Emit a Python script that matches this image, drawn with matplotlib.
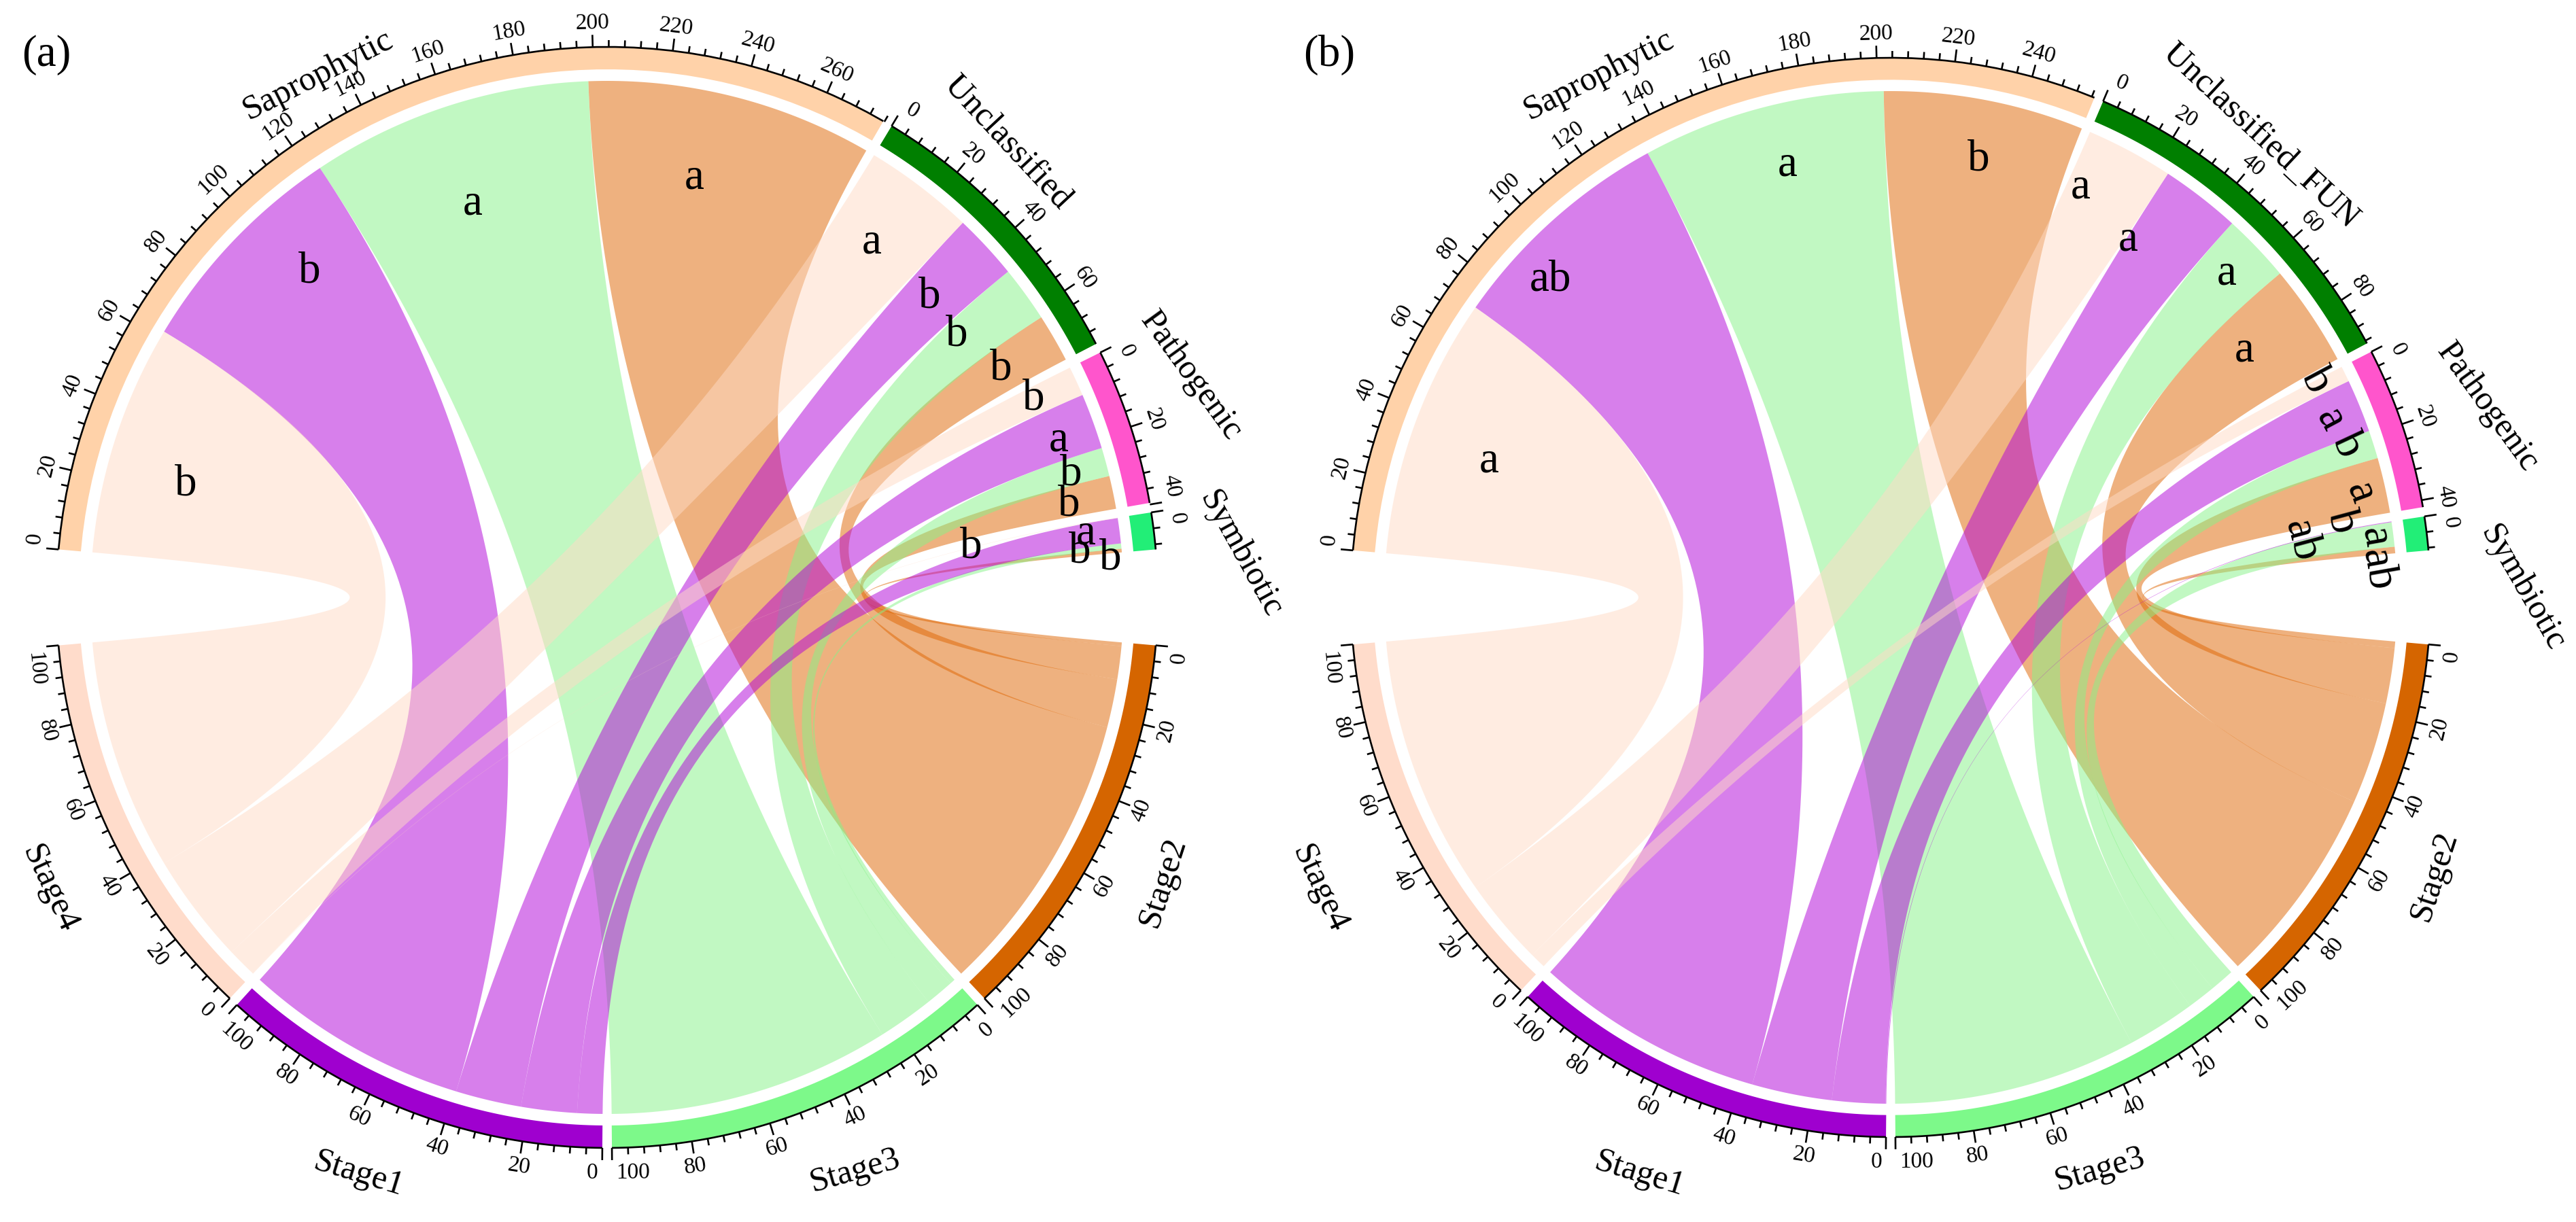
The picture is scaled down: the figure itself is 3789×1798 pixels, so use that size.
import numpy as np
import matplotlib
matplotlib.use("Agg")
import matplotlib.pyplot as plt
from matplotlib.patches import Polygon

plt.rcParams['font.family'] = ['Liberation Serif', 'DejaVu Serif']

# order on the circle, clockwise, starting next to the left gap
groups_a = ["Saprophytic", "Unclassified", "Pathogenic", "Symbiotic"]
groups_b = ["Saprophytic", "Unclassified_FUN", "Pathogenic", "Symbiotic"]
stages = ["Stage2", "Stage3", "Stage1", "Stage4"]

# rows = groups, columns follow stages
flows_a = [[77.1, 75.9, 60.5, 62.2],
           [13.0, 15.0, 17.7, 29.7],
           [8.9, 7.7, 15.0, 8.0],
           [1.0, 1.4, 6.8, 0.1]]
flows_b = [[55.0, 66.8, 63.2, 71.7],
           [28.0, 18.8, 22.0, 24.0],
           [15.2, 7.7, 14.6, 4.3],
           [1.8, 6.7, 0.2, 0.0]]

group_colors = ["#FFD2A9", "#007F00", "#FF55CC", "#22EE77"]
stage_colors = ["#D56500", "#7DF98A", "#9F00CF", "#FFDCCB"]
link_colors = ["#DF6500", "#85F387", "#B101D9", "#FFDBC5"]

# significance letters: (text, x, y, rotation)
letters_a = [("b", 273, 713, 0), ("b", 455, 400, 0), ("a", 695, 300, 0), ("a", 1021, 262, 0),
             ("a", 1282, 357, 0), ("b", 1367, 437, 0), ("b", 1407, 493, 0), ("b", 1472, 543, 0),
             ("b", 1520, 587, 0), ("a", 1557, 648, 0), ("b", 1575, 698, 0), ("b", 1572, 743, 0),
             ("a", 1597, 785, 0), ("b", 1588, 812, 0), ("b", 1633, 822, 0), ("b", 1428, 805, 0)]
letters_b = [("a", 2190, 679, 0), ("ab", 2280, 412, 0), ("a", 2629, 243, 0), ("b", 2910, 235, 0),
             ("a", 3060, 276, 0), ("a", 3130, 353, 0), ("a", 3275, 403, 0), ("a", 3301, 516, 0),
             ("b", 3407, 560, -62), ("a", 3428, 617, -62), ("b", 3453, 655, -65), ("a", 3472, 725, -70),
             ("b", 3445, 768, -75), ("ab", 3385, 795, -75), ("a", 3493, 790, -80), ("ab", 3497, 838, -80)]

# sector titles sit where the original author dragged them: (x, y, rotation), same order as the sectors
titles_a = [(468, 110, 27), (1481, 211, -47), (1752, 553, -54), (1825, 815, -61),
            (1711, 1298, 72), (1258, 1723, 16), (528, 1728, -17), (72, 1308, -65)]
titles_b = [(2352, 110, 27), (3325, 201, -43), (3659, 599, -54), (3710, 865, -60),
            (3581, 1289, 72), (3089, 1721, 16), (2412, 1728, -17), (1940, 1308, -65)]

GAP_BIG = 10
GAP_SMALL = 1


def pol(cx, cy, r, theta):
    # theta in degrees, clockwise from north; y axis points down
    t = np.deg2rad(theta)
    return cx + r * np.sin(t), cy - r * np.cos(t)


def arc(cx, cy, r, t0, t1, n=60):
    x, y = pol(cx, cy, r, np.linspace(t0, t1, n))
    return np.column_stack([x, y])


def bezier(p0, ctrl, p2, n=80):
    t = np.linspace(0, 1, n)[:, None]
    return (1 - t)**2 * p0 + 2 * (1 - t) * t * ctrl + t**2 * p2


def is_lower(theta):
    return 90 < theta % 360 < 270


def upright(theta):
    th = theta % 360
    return 180 - th if is_lower(th) else -th


def draw_link(ax, cx, cy, r, a0, a1, b0, b1, color):
    ctr = np.array([cx, cy])
    s = arc(cx, cy, r, a0, a1)
    t = arc(cx, cy, r, b0, b1)
    pts = np.vstack([s, bezier(s[-1], ctr, t[0]), t, bezier(t[-1], ctr, s[0])])
    ax.add_patch(Polygon(pts, closed=True, fc=color, ec='none', alpha=0.5, lw=0))


def draw_sector(ax, cx, cy, r_out, r_band, t0, total, scale, color):
    t1 = t0 + total * scale
    ring = np.vstack([arc(cx, cy, r_out, t0, t1), arc(cx, cy, r_band, t1, t0)])
    ax.add_patch(Polygon(ring, closed=True, fc=color, ec='none'))
    ax.plot(*arc(cx, cy, r_out, t0, t1).T, color='k', lw=1.9, solid_capstyle='butt')
    for v in np.arange(0, total + 0.5, 4):
        th = t0 + v * scale
        major = v % 20 == 0
        x0, y0 = pol(cx, cy, r_out, th)
        x1, y1 = pol(cx, cy, r_out + (18 if major else 10), th)
        ax.plot([x0, x1], [y0, y1], color='k', lw=1.9, solid_capstyle='butt')
        if major:
            # labels on the sector ends are pushed into the sector
            ha = 'center'
            th_lab = th
            if v == 0:
                ha = 'right' if is_lower(th) else 'left'
                th_lab = th + 0.4
            elif abs(v - total) < 0.5:
                ha = 'left' if is_lower(th) else 'right'
                th_lab = th - 0.4
            xt, yt = pol(cx, cy, r_out + 36, th_lab)
            ax.text(xt, yt, str(int(v)), fontsize=24, rotation=upright(th),
                    rotation_mode='anchor', ha=ha, va='center')


def chord(ax, cx, cy, r_out, flows, group_names, titles, letters):
    r_band = r_out * 777 / 810
    r_link = r_out * 760 / 810
    flows = np.array(flows)
    group_tot = flows.sum(axis=1)
    stage_tot = flows.sum(axis=0)
    scale = (360 - 2 * GAP_BIG - 6 * GAP_SMALL) / (group_tot.sum() + stage_tot.sum())

    # sector start angles
    g_start = []
    th = -90 + GAP_BIG / 2
    for g in group_tot:
        g_start.append(th)
        th += g * scale + GAP_SMALL
    th += GAP_BIG - GAP_SMALL
    s_start = []
    for s in stage_tot:
        s_start.append(th)
        th += s * scale + GAP_SMALL

    # stage4, stage1, stage3, stage2 along the group sectors
    stage_order = [3, 2, 1, 0]
    # symbiotic, pathogenic, unclassified, saprophytic along the stage sectors
    group_order = [3, 2, 1, 0]

    g_pos = {}
    for i in range(4):
        cur = g_start[i]
        for j in stage_order:
            g_pos[i, j] = (cur, cur + flows[i, j] * scale)
            cur += flows[i, j] * scale
    s_pos = {}
    for j in range(4):
        cur = s_start[j]
        for i in group_order:
            s_pos[i, j] = (cur, cur + flows[i, j] * scale)
            cur += flows[i, j] * scale

    for j in range(4):
        for i in range(4):
            if flows[i, j] > 0:
                draw_link(ax, cx, cy, r_link, *g_pos[i, j], *s_pos[i, j], link_colors[j])

    for i in range(4):
        draw_sector(ax, cx, cy, r_out, r_band, g_start[i], group_tot[i], scale, group_colors[i])
    for j in range(4):
        draw_sector(ax, cx, cy, r_out, r_band, s_start[j], stage_tot[j], scale, stage_colors[j])

    for name, (x, y, rot) in zip(group_names + stages, titles):
        ax.text(x, y, name, fontsize=36, rotation=rot, rotation_mode='anchor',
                ha='center', va='center')

    for txt, x, y, rot in letters:
        ax.text(x, y, txt, fontsize=47, rotation=rot, rotation_mode='anchor',
                ha='center', va='center')


fig = plt.figure(figsize=(37.89, 17.99), dpi=100)
ax = fig.add_axes([0, 0, 1, 1])
ax.set_xlim(0, 3789)
ax.set_ylim(1799, 0)
ax.axis('off')

chord(ax, 893, 880, 810, flows_a, groups_a, titles_a, letters_a)
chord(ax, 2781, 880, 794, flows_b, groups_b, titles_b, letters_b)

ax.text(68, 81, "(a)", fontsize=47, ha='center', va='center')
ax.text(1955, 81, "(b)", fontsize=47, ha='center', va='center')

fig.savefig("out.png", dpi=100)
